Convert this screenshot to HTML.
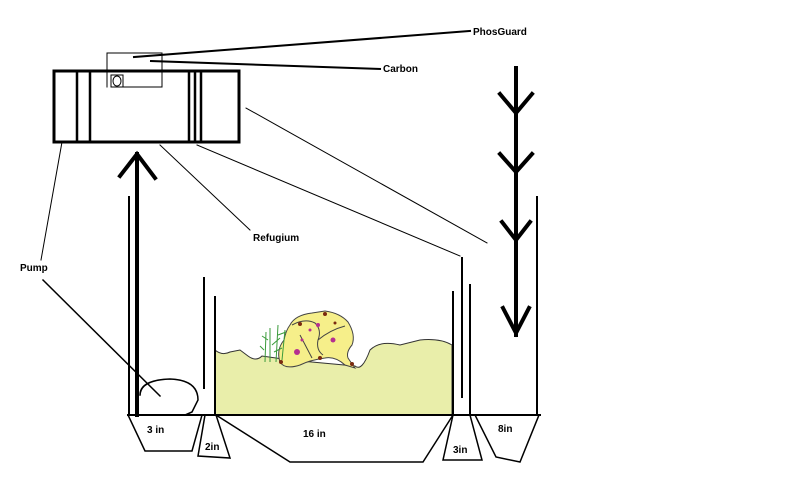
<!DOCTYPE html>
<html><head><meta charset="utf-8"><style>
html,body{margin:0;padding:0;background:#fff;width:800px;height:485px;overflow:hidden}
svg text{font-family:"Liberation Sans",sans-serif;font-weight:bold;font-size:10px;fill:#000}
</style></head><body>
<svg width="800" height="485" viewBox="0 0 800 485" xmlns="http://www.w3.org/2000/svg">
<path d="M215,350 Q222,356 230,352 L240,350 L248,356 Q256,362 262,356 L290,360 L355,366 Q362,372 370,350 Q380,340 400,345 L420,340 Q440,338 452,345 L452,415 L215,415 Z" fill="#e9eeaa" stroke="#333" stroke-width="1"/>
<path d="M290,325 Q295,315 312,313 L325,311 Q340,313 348,322 Q356,335 352,345 Q346,352 348,358 Q352,364 355,368 L345,365 Q335,356 325,358 Q310,360 300,365 Q285,370 280,362 Q276,350 284,340 Q286,330 290,325 Z" fill="#f6ef8a" stroke="#444" stroke-width="1"/>
<path d="M292,325 Q305,318 315,323 Q322,330 318,340 Q316,350 323,355 M318,340 Q330,330 345,326 M300,335 L312,358" stroke="#444" fill="none"/>
<g fill="#b53090"><circle cx="297" cy="352" r="3"/><circle cx="333" cy="340" r="2.5"/><circle cx="318" cy="325" r="2"/><circle cx="302" cy="340" r="1.5"/><circle cx="310" cy="330" r="1.5"/></g>
<g fill="#7a2a10"><circle cx="300" cy="324" r="2"/><circle cx="325" cy="314" r="2"/><circle cx="320" cy="358" r="2"/><circle cx="352" cy="364" r="2"/><circle cx="281" cy="362" r="2"/><circle cx="335" cy="323" r="1.5"/></g>
<g stroke="#3a9a3a" stroke-width="1"><path d="M265,362 L266,332 M270,362 L270,328 M276,362 L278,325 M282,360 L285,330 M268,340 L262,336 M272,345 L280,338 M278,335 L286,332 M264,350 L260,346 M274,352 L282,348"/></g>
<g stroke="#000" fill="none" stroke-linecap="square">
<rect x="54" y="71" width="185" height="71" stroke-width="3"/>
<path d="M77,71 V142 M90,71 V142 M189,71 V142 M195,71 V142 M201,71 V142" stroke-width="2.5"/>
<path d="M107,87 V53 H162 V87 H123" stroke-width="1"/>
<rect x="111" y="75" width="12" height="12" stroke-width="1"/>
<ellipse cx="117" cy="81" rx="4" ry="5" stroke-width="1"/>
<path d="M134,57 L470,31" stroke-width="2"/>
<path d="M151,61 L380,69" stroke-width="2"/>
<path d="M160,145 L250,230" stroke-width="1"/>
<path d="M197,145 L460,256" stroke-width="1"/>
<path d="M246,108 L487,243" stroke-width="1"/>
<path d="M62,142 L41,260" stroke-width="1"/>
<path d="M43,280 L160,396" stroke-width="1.5"/>
<path d="M137,415 V154" stroke-width="4"/>
<path d="M120,176 L137,154 L155,178" stroke-width="4"/>
<path d="M516,68 V335" stroke-width="4"/>
<path d="M500,94 L516,113 L532,94 M500,154 L516,172 L532,154 M502,222 L516,240 L530,222 M503,308 L516,333 L529,308" stroke-width="4"/>
<path d="M129,197 V415" stroke-width="2"/>
<path d="M204,278 V388" stroke-width="2"/>
<path d="M215,297 V415" stroke-width="2"/>
<path d="M453,292 V415" stroke-width="2"/>
<path d="M462,258 V397" stroke-width="2"/>
<path d="M470,285 V415" stroke-width="2"/>
<path d="M537,197 V415" stroke-width="2"/>
<path d="M140,395 Q140,380 170,379 Q198,380 198,400 L192,412 L185,415" stroke-width="1.5"/>
<path d="M128,415 H540" stroke-width="2"/>
<path d="M128,415 L145,451 H192 L202,415" stroke-width="1.5"/>
<path d="M205,415 L198,456 L230,458 L216,415" stroke-width="1.5"/>
<path d="M216,415 L290,462 H423 L453,415" stroke-width="1.5"/>
<path d="M453,415 L443,460 H482 L470,415" stroke-width="1.5"/>
<path d="M475,415 L496,457 L520,462 L539,415" stroke-width="1.5"/>
</g>
<text x="473" y="35">PhosGuard</text>
<text x="383" y="72">Carbon</text>
<text x="253" y="241">Refugium</text>
<text x="20" y="271">Pump</text>
<text x="147" y="433">3 in</text>
<text x="205" y="450">2in</text>
<text x="303" y="437">16 in</text>
<text x="453" y="453">3in</text>
<text x="498" y="432">8in</text>
</svg>
</body></html>
